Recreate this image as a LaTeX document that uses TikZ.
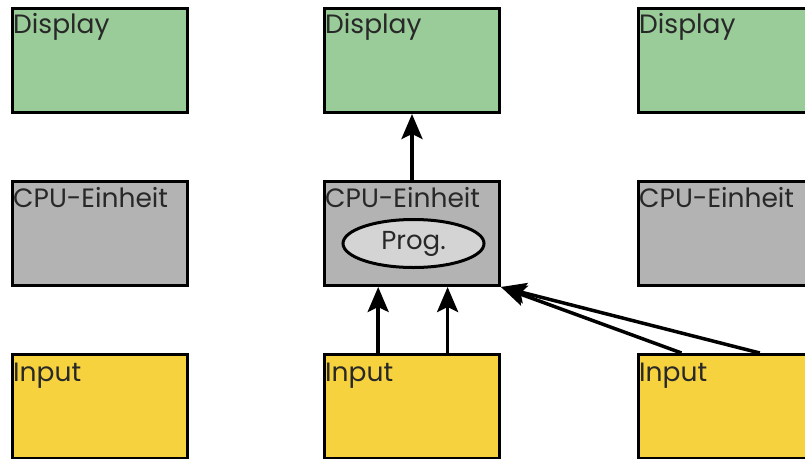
\documentclass[tikz,border=0pt]{standalone}
\usepackage{fontspec}
\setmainfont{Poppins}
\usetikzlibrary{arrows.meta,shapes.geometric,calc}
\definecolor{dispgreen}{RGB}{153,204,153}
\definecolor{cpugray}{RGB}{179,179,179}
\definecolor{inyellow}{RGB}{245,210,62}
\definecolor{proggray}{RGB}{212,212,212}
\definecolor{txt}{RGB}{40,40,40}
\begin{document}
\begin{tikzpicture}[x=1pt,y=1pt,
  box/.style={draw=black,line width=3pt,minimum width=175pt,minimum height=104pt,anchor=north west,inner sep=0pt},
  disp/.style={box,fill=dispgreen},
  cpu/.style={box,fill=cpugray},
  inp/.style={box,fill=inyellow},
  lbl/.style={anchor=base west,inner sep=0pt,text=txt,font=\fontsize{26.5}{30}\selectfont},
  prog/.style={ellipse,draw=black,line width=3pt,fill=proggray,minimum width=141pt,minimum height=48pt,inner sep=0pt,text=txt,font=\fontsize{26}{30}\selectfont},
  conn/.style={line width=3.5pt,-{Stealth[length=25pt,width=21pt,inset=5pt]}}
]
\path[use as bounding box] (0,0) rectangle (805,-458);
\clip (0,0) rectangle (805,-458);
% boxes
\node[disp] (d1) at (11,-7) {};
\node[disp] (d2) at (323,-7) {};
\node[disp] (d3) at (637,-7) {};
\node[cpu] (c1) at (11,-180) {};
\node[cpu] (c2) at (323,-180) {};
\node[cpu] (c3) at (637,-180) {};
\node[inp] (i1) at (11,-353) {};
\node[inp] (i2) at (323,-353) {};
\node[inp] (i3) at (637,-353) {};
% labels
\node[lbl] (d1t) at ($(d1.north west)+(2,-26)$) {Display};
\node[lbl] (d2t) at ($(d2.north west)+(2,-26)$) {Display};
\node[lbl] (d3t) at ($(d3.north west)+(2,-26)$) {Display};
\node[lbl] (c1t) at ($(c1.north west)+(2,-27)$) {CPU-Einheit};
\node[lbl] (c2t) at ($(c2.north west)+(2,-27)$) {CPU-Einheit};
\node[lbl] (c3t) at ($(c3.north west)+(2,-27)$) {CPU-Einheit};
\node[lbl] (i1t) at ($(i1.north west)+(2,-28)$) {Input};
\node[lbl] (i2t) at ($(i2.north west)+(2,-28)$) {Input};
\node[lbl] (i3t) at ($(i3.north west)+(2,-28)$) {Input};
% program ellipse
\node[prog] (pg) at ($(c2.center)+(1.5,-10)$) {Prog.};
% connectors
\draw[conn] (c2.north) -- (d2.south);
\draw[conn] ($(i2.north west)!0.31!(i2.north east)$) -- ($(c2.south west)!0.31!(c2.south east)$);
\draw[conn] ($(i2.north west)!0.70!(i2.north east)$) -- ($(c2.south west)!0.70!(c2.south east)$);
\draw[conn] ($(i3.north west)!0.25!(i3.north east)$) -- (c2.south east);
\draw[conn] ($(i3.north west)!0.69!(i3.north east)$) -- (c2.south east);
\end{tikzpicture}
\end{document}
